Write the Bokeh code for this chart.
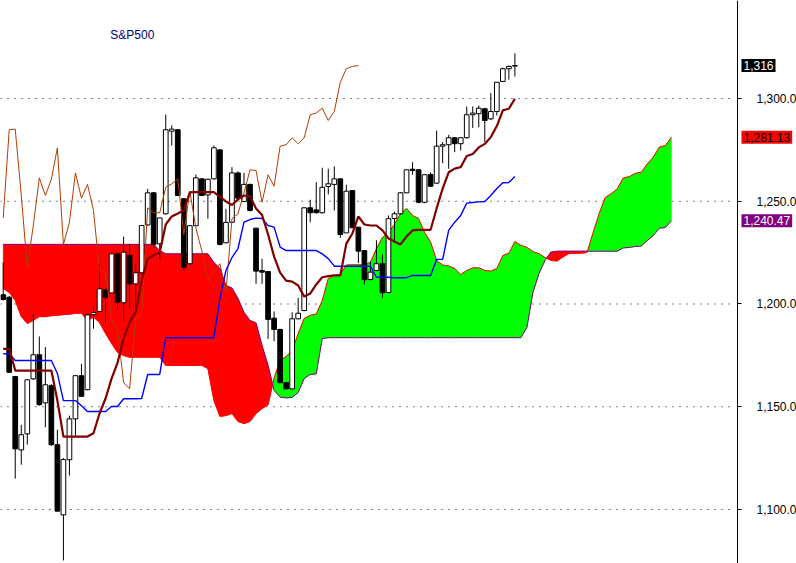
import numpy as np
from bokeh.plotting import figure
from bokeh.models import (Range1d, FixedTicker, NumeralTickFormatter, Label, LinearAxis)
from bokeh.embed import file_html
from bokeh.resources import INLINE

# ---------------- data ----------------
opens = [1204.5, 1203.3, 1164.7, 1129.0, 1136.8, 1163.6, 1175.3, 1151.9, 1160.3, 1131.5,
         1097.4, 1124.2, 1144.1, 1165.1, 1158.3, 1194.9, 1196.4, 1207.0, 1205.4, 1224.4,
         1200.6, 1223.6, 1209.8, 1215.2, 1238.5, 1254.1, 1229.3, 1243.9, 1284.1, 1284.8,
         1251.2, 1219.6, 1238.1, 1260.9, 1253.1, 1260.9, 1275.0, 1229.8, 1239.8, 1263.8,
         1249.9, 1258.2, 1236.9, 1216.3, 1215.8, 1193.1, 1187.6, 1161.7, 1158.7, 1192.8,
         1196.8, 1246.8, 1245.8, 1244.4, 1257.2, 1258.2, 1260.9, 1234.6, 1255.2, 1237.4,
         1226.0, 1211.9, 1216.3, 1219.6, 1205.6, 1241.6, 1243.9, 1254.1, 1265.6, 1265.3,
         1249.5, 1263.0, 1258.8, 1276.8, 1277.5, 1280.9, 1278.0, 1280.9, 1292.1, 1292.6,
         1295.0, 1290.1, 1293.7, 1308.3, 1314.5, 1315.8]
highs = [1220.2, 1204.0, 1165.0, 1141.2, 1163.5, 1195.2, 1184.2, 1179.0, 1161.0, 1138.8,
         1125.0, 1145.7, 1165.5, 1170.9, 1195.0, 1198.8, 1219.6, 1207.5, 1225.0, 1225.0,
         1232.8, 1229.3, 1219.6, 1238.5, 1256.0, 1254.5, 1242.0, 1292.2, 1286.9, 1285.0,
         1251.5, 1238.5, 1263.0, 1261.0, 1261.0, 1277.1, 1275.5, 1246.3, 1266.6, 1264.5,
         1263.8, 1258.5, 1237.0, 1222.0, 1216.0, 1196.4, 1188.0, 1162.0, 1196.0, 1203.0,
         1247.0, 1250.7, 1259.3, 1266.3, 1265.8, 1267.0, 1261.0, 1258.0, 1255.5, 1237.5,
         1226.0, 1220.7, 1231.0, 1224.1, 1243.1, 1245.0, 1254.5, 1265.5, 1269.0, 1265.5,
         1263.0, 1264.1, 1284.4, 1278.8, 1282.3, 1281.0, 1281.0, 1296.1, 1296.1, 1296.6,
         1295.5, 1302.6, 1308.0, 1315.0, 1316.0, 1322.0]
lows = [1201.7, 1166.5, 1115.0, 1121.8, 1131.5, 1163.0, 1150.5, 1140.0, 1131.0, 1099.0,
        1075.2, 1116.5, 1135.8, 1155.0, 1158.0, 1188.0, 1196.0, 1191.0, 1205.0, 1197.2,
        1192.0, 1197.7, 1197.7, 1215.0, 1238.0, 1227.3, 1221.5, 1243.5, 1277.1, 1252.5,
        1216.0, 1219.0, 1238.0, 1252.5, 1241.5, 1260.5, 1228.5, 1229.5, 1239.5, 1251.0,
        1249.5, 1245.0, 1209.8, 1209.8, 1183.0, 1181.9, 1161.5, 1158.5, 1158.5, 1192.5,
        1196.5, 1239.8, 1244.0, 1244.0, 1253.3, 1245.5, 1232.2, 1234.5, 1237.0, 1219.9,
        1209.5, 1211.5, 1216.0, 1203.0, 1205.5, 1230.0, 1243.5, 1254.0, 1262.9, 1249.0,
        1249.0, 1257.0, 1258.5, 1268.5, 1265.8, 1273.9, 1274.7, 1280.5, 1285.7, 1286.0,
        1278.7, 1289.5, 1291.7, 1308.0, 1309.2, 1310.7]
closes = [1202.2, 1166.8, 1129.5, 1136.4, 1163.1, 1175.3, 1151.0, 1160.7, 1131.5, 1099.2,
          1124.3, 1144.1, 1165.1, 1155.1, 1194.7, 1195.9, 1207.4, 1203.3, 1224.4, 1200.9,
          1225.2, 1209.8, 1215.2, 1238.2, 1254.1, 1229.0, 1241.9, 1284.8, 1285.1, 1252.8,
          1217.9, 1238.1, 1261.4, 1252.8, 1260.7, 1276.0, 1229.0, 1239.7, 1263.8, 1251.5,
          1258.2, 1245.5, 1216.0, 1215.5, 1192.5, 1187.6, 1161.7, 1158.7, 1192.8, 1195.5,
          1246.8, 1244.4, 1244.4, 1256.8, 1258.5, 1260.9, 1233.8, 1254.9, 1237.1, 1225.7,
          1211.8, 1215.5, 1219.6, 1205.5, 1241.5, 1243.9, 1254.1, 1265.3, 1265.0, 1249.5,
          1262.9, 1257.3, 1276.8, 1277.5, 1280.9, 1278.0, 1280.9, 1292.1, 1292.9, 1295.3,
          1289.3, 1293.7, 1307.9, 1314.5, 1315.6, 1316.0]

tenkan = [1175.8, 1175.8, 1172.5, 1172.5, 1172.5, 1172.5, 1172.5, 1172.5, 1172.5, 1166.2,
          1153.0, 1153.0, 1153.0, 1150.5, 1147.7, 1147.7, 1147.7, 1147.7, 1150.1, 1150.1,
          1153.9, 1153.9, 1153.9, 1154.0, 1165.7, 1165.7, 1165.7, 1183.6, 1183.6, 1183.6,
          1183.6, 1183.6, 1183.6, 1183.6, 1183.6, 1183.6, 1202.7, 1216.3, 1222.6, 1227.0,
          1239.8, 1241.1, 1241.8, 1241.6, 1238.2, 1237.4, 1227.7, 1226.0, 1226.0, 1226.0,
          1226.0, 1226.0, 1226.0, 1224.4, 1222.1, 1218.4, 1218.4, 1218.4, 1218.4, 1218.4,
          1218.4, 1218.4, 1213.0, 1213.0, 1213.0, 1212.8, 1212.8, 1212.8, 1213.9, 1213.9,
          1213.9, 1213.9, 1221.7, 1221.7, 1235.8, 1239.8, 1243.1, 1249.1, 1249.4, 1249.7,
          1249.9, 1252.8, 1256.2, 1259.0, 1259.1, 1262.0]

kijun = [1178.2, 1178.2, 1167.6, 1167.6, 1167.6, 1167.6, 1167.6, 1167.6, 1167.6, 1153.0,
         1135.5, 1135.5, 1135.5, 1135.5, 1135.5, 1137.1, 1146.7, 1154.0, 1163.7, 1171.5,
         1183.2, 1191.2, 1195.9, 1211.4, 1222.1, 1223.6, 1225.1, 1238.7, 1242.6, 1244.0,
         1245.5, 1254.3, 1254.4, 1254.4, 1254.4, 1254.4, 1252.1, 1249.9, 1248.2, 1250.9,
         1252.8, 1252.3, 1246.5, 1243.3, 1233.8, 1223.1, 1215.3, 1211.4, 1210.9, 1209.0,
         1203.6, 1205.1, 1209.5, 1213.0, 1213.6, 1213.9, 1213.9, 1229.4, 1234.3, 1242.6,
         1238.7, 1238.2, 1238.2, 1235.8, 1231.9, 1230.4, 1229.0, 1232.8, 1235.8, 1236.1,
         1236.1, 1236.1, 1246.5, 1256.2, 1264.1, 1265.9, 1266.6, 1272.0, 1273.0, 1276.2,
         1277.9, 1281.2, 1286.6, 1294.2, 1295.0, 1299.9]

span_a = [1207.5, 1205.6, 1201.7, 1193.9, 1190.5, 1192.0, 1193.9, 1193.8, 1194.3, 1194.5,
          1194.8, 1195.0, 1195.5, 1195.5, 1192.0, 1193.6, 1191.0, 1185.6, 1180.8, 1176.4,
          1174.9, 1174.1, 1174.1, 1174.1, 1174.1, 1174.1, 1174.1, 1170.1, 1170.1, 1170.1,
          1170.1, 1170.1, 1170.1, 1170.1, 1168.6, 1153.0, 1145.3, 1145.7, 1146.7, 1142.8,
          1141.8, 1142.8, 1146.7, 1149.1, 1151.0, 1164.0, 1172.5, 1174.5, 1177.4, 1185.6,
          1193.0, 1194.5, 1195.1, 1201.7, 1212.4, 1213.9, 1214.4, 1219.0, 1219.1, 1219.1,
          1219.1, 1220.2, 1227.0, 1232.4, 1234.8, 1238.7, 1244.0, 1246.5, 1243.1, 1241.6,
          1234.8, 1230.1, 1221.2, 1219.0, 1218.5, 1217.3, 1214.4, 1216.3, 1217.6, 1217.6,
          1216.3, 1216.0, 1217.3, 1223.6, 1224.7, 1230.4, 1228.5, 1227.6, 1225.5, 1224.5,
          1222.6, 1221.2, 1220.9, 1222.9, 1224.6, 1224.6, 1224.7, 1225.1, 1234.8, 1244.0,
          1251.8, 1253.7, 1256.0, 1261.3, 1262.0, 1263.6, 1264.1, 1268.2, 1271.5, 1276.4,
          1277.1, 1281.13]

span_b = [1229.0] * 26 + [1226.0] + [1224.4] * 8 + [
          1220.2, 1217.3, 1209.0, 1207.8, 1202.7, 1195.9, 1192.0, 1190.8, 1179.8, 1170.1,
          1157.9, 1154.7, 1154.3, 1154.5, 1156.9, 1163.7, 1165.7, 1166.0, 1183.2] + [1183.6] * 33 + [
          1188.6, 1205.6, 1214.8, 1221.2, 1225.3] + [1225.7] * 11 + [
          1227.3, 1227.5, 1228.0, 1228.2, 1230.9, 1233.3, 1236.9, 1237.2, 1240.47]

price_ticks = [1100, 1150, 1200, 1250, 1300]
title_text = "S&P500"
chikou_shift = 26

# ---------------- layout constants ----------------
X_START, X_END = -0.45, 131.78      # visible bar-index range
Y_START, Y_END = 1073.72, 1347.69   # visible price range
AXIS_AT = 121.98                    # bar-index position of the price axis
LABEL_AT = 122.64                   # left edge of the boxed price tags

p = figure(width=796, height=563, output_backend="svg", toolbar_location=None,
           x_range=Range1d(X_START, X_END), y_range=Range1d(Y_START, Y_END),
           x_axis_location=None, y_axis_location=None,
           min_border_left=0, min_border_right=0, min_border_top=0, min_border_bottom=0)
p.outline_line_color = None
p.background_fill_color = "white"
p.border_fill_color = "white"
p.xgrid.visible = False
p.ygrid.visible = False

# dotted horizontal price grid, stopping at the price axis
p.segment(x0=[X_START] * len(price_ticks), y0=price_ticks,
          x1=[AXIS_AT - 0.6] * len(price_ticks), y1=price_ticks,
          line_color="black", line_dash="1 6", line_width=1)

# ---------------- cloud ----------------
A = np.array(span_a, dtype=float)
B = np.array(span_b, dtype=float)
pts = []
for i in range(len(A)):
    pts.append((float(i), A[i], B[i]))
    if i < len(A) - 1:
        d0 = A[i] - B[i]
        d1 = A[i + 1] - B[i + 1]
        if d0 * d1 < 0:
            t = d0 / (d0 - d1)
            yc = A[i] + t * (A[i + 1] - A[i])
            pts.append((i + t, yc, yc))

runs = []
cur = [pts[0]]
cur_sign = None
for k in range(1, len(pts)):
    p0, p1 = pts[k - 1], pts[k]
    s = (p0[1] - p0[2]) + (p1[1] - p1[2])
    sign = 1 if s >= 0 else -1
    if cur_sign is None or sign == cur_sign:
        cur.append(p1)
        cur_sign = sign
    else:
        runs.append((cur_sign, cur))
        cur = [p0, p1]
        cur_sign = sign
runs.append((cur_sign, cur))

gx, gy, rx, ry = [], [], [], []
for sign, run in runs:
    xs = [q[0] for q in run] + [q[0] for q in reversed(run)]
    ys = [q[1] for q in run] + [q[2] for q in reversed(run)]
    if sign > 0:
        gx.append(xs); gy.append(ys)
    else:
        rx.append(xs); ry.append(ys)

p.patches(xs=gx, ys=gy, fill_color="#00FF00", line_color="#00FF00", line_width=0.5)
p.patches(xs=rx, ys=ry, fill_color="#FF0000", line_color="#FF0000", line_width=0.5)
cx = np.arange(len(A))
p.line(cx, A, line_color="#FF0000", line_width=1)
p.line(cx, B, line_color="#800080", line_width=1)

# ---------------- candles ----------------
o = np.array(opens); h = np.array(highs); l = np.array(lows); c = np.array(closes)
idx = np.arange(len(c))
p.segment(idx, h, idx, l, line_color="black", line_width=1)
up = c >= o
dn = ~up
p.vbar(x=idx[up], width=0.78, top=c[up], bottom=o[up],
       fill_color="white", line_color="black", line_width=1)
p.vbar(x=idx[dn], width=0.78, top=o[dn], bottom=c[dn],
       fill_color="black", line_color="black", line_width=1)

# ---------------- indicator lines ----------------
chik_x = idx[chikou_shift:] - chikou_shift
p.line(chik_x, c[chikou_shift:], line_color="#B33C00", line_width=1)
p.line(idx, tenkan, line_color="#0000FF", line_width=1.4)
p.line(idx, kijun, line_color="#800000", line_width=2.2)

# ---------------- price axis (right side, at a fixed location) ----------------
ax = LinearAxis(fixed_location=AXIS_AT)
ax.ticker = FixedTicker(ticks=price_ticks)
ax.formatter = NumeralTickFormatter(format="0,0.0")
ax.major_tick_out = 4
ax.major_tick_in = 0
ax.minor_tick_out = 0
ax.minor_tick_in = 0
ax.major_label_standoff = 15
ax.major_label_text_font = "Liberation Sans"
ax.major_label_text_font_size = "12px"
ax.major_label_text_color = "black"
ax.axis_line_color = "black"
ax.major_tick_line_color = "black"
p.add_layout(ax, "right")

# ---------------- labels ----------------
p.add_layout(Label(x=17.8, y=1330.9, text=title_text, text_font="Liberation Sans",
                   text_font_size="12px", text_color="#000080",
                   text_baseline="middle", text_align="left"))

for val, txt, bg, fg in [
        (closes[-1], f"{closes[-1]:,.0f}", "black", "white"),
        (span_a[-1], f"{span_a[-1]:,.2f}", "#FF0000", "black"),
        (span_b[-1], f"{span_b[-1]:,.2f}", "#800080", "white")]:
    p.add_layout(Label(x=LABEL_AT, y=val, text=txt, text_font="Liberation Sans",
                       text_font_size="12px", text_color=fg,
                       background_fill_color=bg, padding=2,
                       text_baseline="middle", text_align="left"))

open("out.html", "w").write(file_html(p, INLINE))
